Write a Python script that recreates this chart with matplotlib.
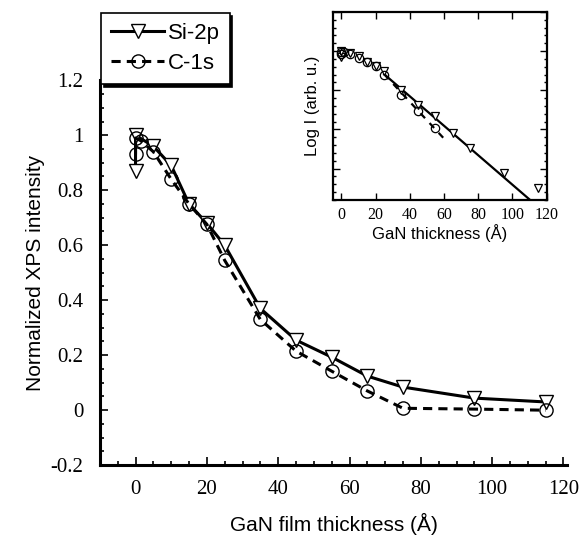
import numpy as np
import matplotlib
matplotlib.use("Agg")
import matplotlib.pyplot as plt
from matplotlib.ticker import MultipleLocator, NullFormatter

# ---- data --------------------------------------------------------------
si_x = [0, 0, 5, 10, 15, 20, 25, 35, 45, 55, 65, 75, 95, 115]
si_y = [0.87, 1.0, 0.96, 0.89, 0.75, 0.68, 0.60, 0.37, 0.255, 0.193, 0.124, 0.084, 0.044, 0.03]
c_x = [0, 0, 1.5, 5, 10, 15, 20, 25, 35, 45, 55, 65, 75, 95, 115]
c_y = [0.93, 0.99, 0.98, 0.94, 0.84, 0.75, 0.676, 0.545, 0.33, 0.215, 0.142, 0.07, 0.007, 0.004, 0.0]

# inset: ln of intensity, C-1s only shown up to 55 A
inset_c_max = 55
fit_si_x = [25, 110]
fit_si_y = [-0.59, -3.79]
fit_c_x = [25, 62]
fit_c_y = [-0.59, -2.33]

serif = ["Liberation Serif", "DejaVu Serif"]
sans = ["Liberation Sans", "DejaVu Sans"]

fig = plt.figure(figsize=(5.84, 5.46), dpi=100)

# ---- main panel --------------------------------------------------------
ax = fig.add_axes([0.171, 0.148, 0.80, 0.705])
ax.plot(si_x, si_y, "-", color="black", lw=2.2, marker="v", ms=9.5,
        mfc="white", mec="black", mew=1.0, label="Si-2p", zorder=3)
ax.plot(c_x, c_y, "--", color="black", lw=2.2, dashes=(3, 2), marker="o", ms=9.5,
        mfc="none", mec="black", mew=1.0, label="C-1s", zorder=3)
ax.set_xlim(-10, 121)
ax.set_ylim(-0.2, 1.2)
ax.spines["top"].set_visible(False)
ax.spines["right"].set_visible(False)
for s in ("left", "bottom"):
    ax.spines[s].set_linewidth(2.2)
ax.xaxis.set_major_locator(MultipleLocator(20))
ax.xaxis.set_minor_locator(MultipleLocator(5))
ax.yaxis.set_major_locator(MultipleLocator(0.2))
ax.yaxis.set_minor_locator(MultipleLocator(0.05))
ax.tick_params(which="both", direction="in", top=False, right=False, width=1.2)
ax.tick_params(which="major", length=6, labelsize=15)
ax.tick_params(axis="y", which="major", pad=12)
ax.tick_params(axis="x", which="major", pad=11)
ax.tick_params(which="minor", length=3)
ax.set_yticks([-0.2, 0, 0.2, 0.4, 0.6, 0.8, 1.0, 1.2])
ax.set_yticklabels(["-0.2", "0", "0.2", "0.4", "0.6", "0.8", "1", "1.2"])
for lab in ax.get_xticklabels() + ax.get_yticklabels():
    lab.set_family(serif)
ax.set_xlabel("GaN film thickness (Å)", fontsize=15, family=sans, labelpad=10)
ax.set_ylabel("Normalized XPS intensity", fontsize=15, family=sans, labelpad=4)

leg = fig.legend(handles=ax.get_lines(), loc="upper left",
                 bbox_to_anchor=(0.173, 0.976), fancybox=False,
                 shadow={"color": "black", "alpha": 1.0}, framealpha=1,
                 edgecolor="black", prop={"family": sans, "size": 16},
                 handlelength=2.4, handletextpad=0.15, borderpad=0.45,
                 labelspacing=0.4, borderaxespad=0)
leg.get_frame().set_linewidth(1.2)

# ---- inset: log intensity ---------------------------------------------
axi = fig.add_axes([0.570, 0.634, 0.366, 0.344])
si_ln = np.log(np.array(si_y))
cx = np.array(c_x)
cy = np.array(c_y)
keep = cx <= inset_c_max
axi.plot(fit_si_x, fit_si_y, "-", color="black", lw=1.6)
axi.plot(fit_c_x, fit_c_y, "--", color="black", lw=1.6, dashes=(3, 3))
axi.plot(si_x, si_ln, "v", ms=6, mfc="white", mec="black", mew=0.9)
axi.plot(cx[keep], np.log(cy[keep]), "o", ms=6, mfc="none", mec="black", mew=0.9)
axi.set_xlim(-5, 120)
axi.set_ylim(-3.8, 1.0)
for s in axi.spines.values():
    s.set_linewidth(1.6)
axi.xaxis.set_major_locator(MultipleLocator(20))
axi.yaxis.set_major_locator(MultipleLocator(1))
axi.yaxis.set_minor_locator(MultipleLocator(0.2))
axi.yaxis.set_major_formatter(NullFormatter())
axi.tick_params(which="both", direction="in", top=True, right=True, width=1.0)
axi.tick_params(which="major", length=5, labelsize=11.5, pad=5)
axi.tick_params(which="minor", length=2.5)
for lab in axi.get_xticklabels():
    lab.set_family(serif)
axi.set_xlabel("GaN thickness (Å)", fontsize=12, family=sans, labelpad=1)
axi.set_ylabel("Log I (arb. u.)", fontsize=12, family=sans, labelpad=4)

fig.savefig("out.png", dpi=100)
